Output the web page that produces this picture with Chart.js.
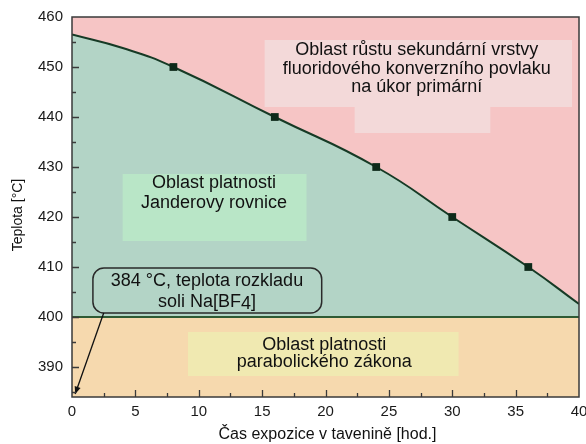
<!DOCTYPE html>
<html>
<head>
<meta charset="utf-8">
<script src="https://cdn.jsdelivr.net/npm/chart.js@4/dist/chart.umd.min.js"></script>
<style>
  html, body { margin: 0; background: #fff; }
  #wrap { width: 586px; height: 444px; }
</style>
</head>
<body>
<div id="wrap"><canvas id="chart"></canvas></div>
<script>
// measured points (exposure time vs. temperature)
const hours = [8, 16, 24, 30, 36];
const temps = [450, 440, 430, 420, 410];

// boundary curve through the measured points, with its ends on the axes
const curveHours = [0, 4, 8, 16, 24, 30, 36, 40];
const curveTemps = [456.5, 453.8, 450, 440, 430, 420, 410, 402.6];

// decomposition limit line
const limitHours = [0, 40];
const limitTemps = [400, 400];

const xTicks = [0, 5, 10, 15, 20, 25, 30, 35, 40];
const yTicks = [390, 400, 410, 420, 430, 440, 450, 460];

const FONT = '"Liberation Sans", Arial, sans-serif';
const TENSION = 0.5;
const toXY = (xs, ys) => xs.map((v, i) => ({ x: v, y: ys[i] }));

const curve = toXY(curveHours, curveTemps);

const regionPlugin = {
  id: 'regions',
  afterDatasetsDraw(chart) {
    const { ctx, scales: { x, y } } = chart;
    const px = v => x.getPixelForValue(v);
    const py = v => y.getPixelForValue(v);

    const rect = (x0, x1, y0, y1, color) => {
      ctx.fillStyle = color;
      ctx.fillRect(px(x0), py(y1), px(x1) - px(x0), py(y0) - py(y1));
    };
    const lines = (cx, cy, gap, texts) => {
      ctx.fillStyle = '#111';
      ctx.font = '18px ' + FONT;
      ctx.textAlign = 'center';
      ctx.textBaseline = 'middle';
      texts.forEach((t, i) => ctx.fillText(t, px(cx), py(cy) + i * gap));
    };

    ctx.save();
    // label backgrounds
    rect(15.2, 39.45, 442, 455.4, '#f3d9d9');
    rect(22.3, 33.0, 436.8, 442, '#f3d9d9');
    rect(4.0, 18.5, 415.2, 428.6, '#b9e6c7');
    rect(9.15, 30.5, 388.2, 397, '#f0e9b1');

    lines(27.2, 453.3, 18.5, ['Oblast růstu sekundární vrstvy', 'fluoridového konverzního povlaku', 'na úkor primární']);
    lines(11.2, 426.8, 20, ['Oblast platnosti', 'Janderovy rovnice']);
    lines(19.9, 394.4, 17.5, ['Oblast platnosti', 'parabolického zákona']);

    // callout for the decomposition temperature
    const cx0 = px(1.65), cx1 = px(19.7), cy0 = py(409.8), cy1 = py(400.8);
    ctx.beginPath();
    ctx.roundRect(cx0, cy0, cx1 - cx0, cy1 - cy0, 11);
    ctx.lineWidth = 1.5;
    ctx.strokeStyle = '#2a2a2a';
    ctx.stroke();
    lines(10.65, 407.2, 21, ['384 °C, teplota rozkladu']);
    // second line with the lowered 4
    const parts = ['soli Na[BF', '4', ']'];
    const widths = parts.map(p => ctx.measureText(p).width);
    let tx = px(10.65) - widths.reduce((a, b) => a + b, 0) / 2;
    const ty = py(407.2) + 21;
    ctx.textAlign = 'left';
    parts.forEach((p, i) => {
      ctx.fillText(p, tx, i === 1 ? ty + 2 : ty);
      tx += widths[i];
    });

    // arrow to 384 °C on the y axis
    const ax0 = px(2.5), ay0 = py(400.8), ax1 = px(0.25), ay1 = py(384.6);
    ctx.beginPath();
    ctx.moveTo(ax0, ay0);
    ctx.lineTo(ax1, ay1);
    ctx.lineWidth = 1.3;
    ctx.strokeStyle = '#111';
    ctx.stroke();
    const ang = Math.atan2(ay1 - ay0, ax1 - ax0);
    ctx.beginPath();
    ctx.moveTo(ax1, ay1);
    ctx.lineTo(ax1 - 8 * Math.cos(ang - 0.4), ay1 - 8 * Math.sin(ang - 0.4));
    ctx.lineTo(ax1 - 8 * Math.cos(ang + 0.4), ay1 - 8 * Math.sin(ang + 0.4));
    ctx.closePath();
    ctx.fillStyle = '#111';
    ctx.fill();
    ctx.restore();
  },
  afterDraw(chart) {
    const { ctx, chartArea: a, scales: { x, y } } = chart;
    ctx.save();
    ctx.strokeStyle = '#3a3a3a';
    ctx.lineWidth = 1.5;
    ctx.strokeRect(a.left, a.top, a.right - a.left, a.bottom - a.top);

    // inward ticks, major and minor
    ctx.lineWidth = 1.3;
    ctx.beginPath();
    for (let v = 385; v < 460; v += 5) {
      const p = Math.round(y.getPixelForValue(v)) + 0.5;
      const len = v % 10 === 0 ? 7 : 4;
      ctx.moveTo(a.left, p);
      ctx.lineTo(a.left + len, p);
    }
    for (let v = 2.5; v < 40; v += 2.5) {
      const p = Math.round(x.getPixelForValue(v)) + 0.5;
      const len = v % 5 === 0 ? 7 : 4;
      ctx.moveTo(p, a.bottom);
      ctx.lineTo(p, a.bottom - len);
    }
    ctx.stroke();

    // axis titles
    ctx.fillStyle = '#111';
    ctx.textAlign = 'center';
    ctx.textBaseline = 'middle';
    ctx.font = '16px ' + FONT;
    ctx.fillText('Čas expozice v tavenině [hod.]', (a.left + a.right) / 2 + 2, 435);
    ctx.font = '14px ' + FONT;
    ctx.translate(18, 215);
    ctx.rotate(-Math.PI / 2);
    ctx.fillText('Teplota [°C]', 0, 0);
    ctx.restore();
  }
};

new Chart(document.getElementById('chart').getContext('2d'), {
  type: 'line',
  data: {
    datasets: [
      {
        // region above the curve
        data: curve,
        fill: 'end',
        backgroundColor: '#f6c5c5',
        borderWidth: 0,
        pointRadius: 0,
        tension: TENSION,
        order: 6
      },
      {
        // region between the curve and 400 °C
        data: curve,
        fill: { value: 400 },
        backgroundColor: '#b3d4c6',
        borderWidth: 0,
        pointRadius: 0,
        tension: TENSION,
        order: 5
      },
      {
        data: toXY(limitHours, limitTemps),
        fill: 'start',
        backgroundColor: '#f6d9ae',
        borderColor: '#2f5b34',
        borderWidth: 2,
        pointRadius: 0,
        order: 4
      },
      {
        data: curve,
        fill: false,
        borderColor: '#163a25',
        borderWidth: 2,
        pointRadius: 0,
        tension: TENSION,
        order: 2
      },
      {
        data: toXY(hours, temps),
        showLine: false,
        pointStyle: 'rect',
        pointRadius: 5.5,
        pointBackgroundColor: '#0e2a1a',
        pointBorderColor: '#0e2a1a',
        pointBorderWidth: 0,
        order: 1
      }
    ]
  },
  options: {
    responsive: true,
    maintainAspectRatio: false,
    animation: false,
    layout: { autoPadding: false, padding: { top: 17, right: 7, left: 0, bottom: 0 } },
    plugins: { legend: { display: false }, tooltip: { enabled: false } },
    scales: {
      x: {
        type: 'linear',
        min: 0,
        max: 40,
        afterFit: s => { s.height = 47; s.paddingLeft = 0; s.paddingRight = 0; },
        afterBuildTicks: s => { s.ticks = xTicks.map(v => ({ value: v })); },
        grid: { display: false, drawTicks: false },
        border: { display: false },
        ticks: { padding: 6, color: '#1a1a1a', font: { family: FONT, size: 15 }, maxRotation: 0 }
      },
      y: {
        type: 'linear',
        min: 384,
        max: 460,
        afterFit: s => { s.width = 72; s.paddingTop = 0; s.paddingBottom = 0; },
        afterBuildTicks: s => { s.ticks = yTicks.map(v => ({ value: v })); },
        grid: { display: false, drawTicks: false },
        border: { display: false },
        ticks: { padding: 9, color: '#1a1a1a', font: { family: FONT, size: 15 } }
      }
    }
  },
  plugins: [regionPlugin]
});
</script>
</body>
</html>
